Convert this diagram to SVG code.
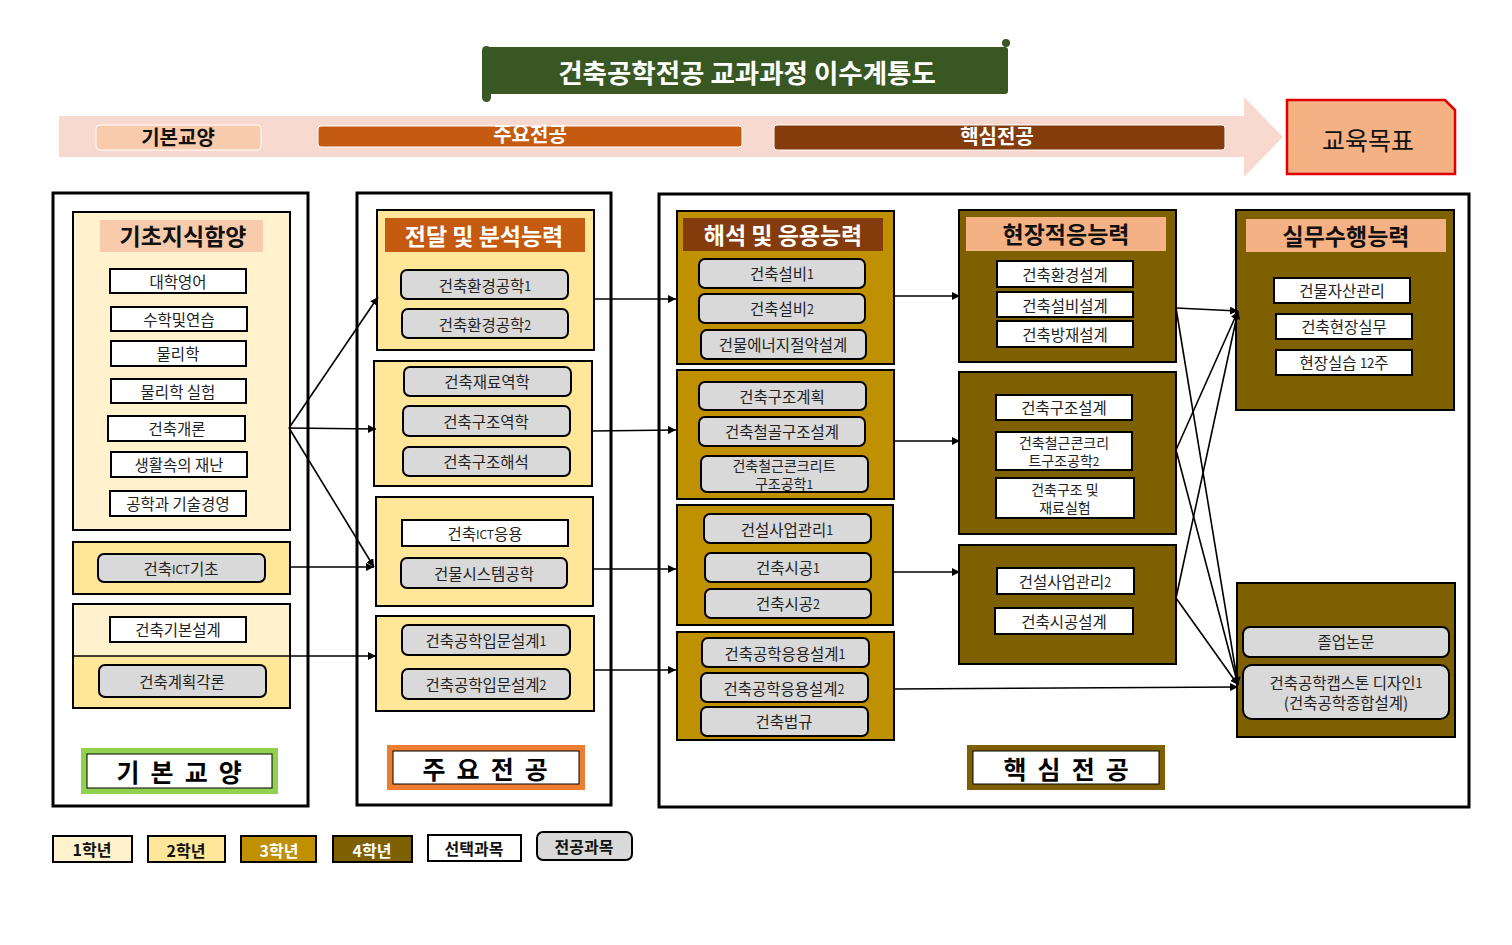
<svg xmlns="http://www.w3.org/2000/svg" width="1512" height="945" viewBox="0 0 1512 945">
<defs>
<style>
text{font-family:"Malgun Gothic","Noto Sans CJK KR",sans-serif;dominant-baseline:central;text-anchor:middle;}
.it{font-size:15.5px;fill:#222;}
.it2{font-size:14px;fill:#222;}
.hd{font-size:23px;font-weight:bold;}
.outer{fill:#fff;stroke:#000;stroke-width:3;}
.y1{fill:#fff2cc;stroke:#000;stroke-width:2;}
.y2{fill:#ffe699;stroke:#000;stroke-width:2;}
.y3{fill:#bf9000;stroke:#000;stroke-width:2;}
.y4{fill:#7f6000;stroke:#000;stroke-width:2;}
.sel{fill:#fff;stroke:#000;stroke-width:2;}
.maj{fill:#d9d9d9;stroke:#000;stroke-width:2;}
.lbl{font-size:25px;font-weight:bold;fill:#000;letter-spacing:2.7px;}
.lg{font-size:16px;font-weight:bold;}
.bd{font-size:20px;font-weight:bold;}
.con line{stroke:#000;stroke-width:1.6;fill:none;}
</style>
<marker id="ah" viewBox="0 0 10 10" refX="10" refY="5" markerWidth="8" markerHeight="8" markerUnits="userSpaceOnUse" orient="auto"><path d="M0,0 L10,5 L0,10 z" fill="#000"/></marker>
</defs>
<rect width="1512" height="945" fill="#fff"/>

<g id="title">
<rect x="486" y="47" width="522" height="47" rx="3" fill="#385723"/>
<rect x="482" y="46" width="9" height="56" rx="4.5" fill="#385723"/>
<circle cx="1006" cy="43" r="4" fill="#385723"/>
<text x="747" y="71" style="font-size:26.5px;font-weight:bold;fill:#fff;">건축공학전공 교과과정 이수계통도</text>
</g>

<g id="band">
<path d="M59,116 L1244,116 L1244,97 L1283,137 L1244,177 L1244,157 L59,157 Z" fill="#f8d9cf"/>
<rect x="96" y="125" width="165" height="25" rx="4" fill="#f8cbad" stroke="#fff" stroke-width="1"/>
<text class="bd" x="178" y="136" fill="#111">기본교양</text>
<rect x="318" y="126" width="424" height="21" rx="3" fill="#c55a11" stroke="#fff" stroke-width="1"/>
<text class="bd" x="530" y="133" fill="#fff">주요전공</text>
<rect x="774" y="125" width="451" height="25" rx="3" fill="#843c0c" stroke="#fff" stroke-width="1"/>
<text class="bd" x="997" y="135" fill="#fff">핵심전공</text>
</g>

<g id="goal">
<path d="M1287,100 L1445,100 L1455,110 L1455,174 L1287,174 Z" fill="#f4b183" stroke="#e00000" stroke-width="2.5"/>
<text x="1368" y="139" style="font-size:25px;fill:#111;">교육목표</text>
</g>

<g id="col1">
<rect class="outer" x="53" y="193" width="255" height="613"/>
<g id="basic-knowledge">
<rect class="y1" x="73" y="212" width="217" height="318"/>
<rect x="100" y="220" width="163" height="32" fill="#f8cbad"/>
<text class="hd" x="183" y="235" fill="#111">기초지식함양</text>
<rect class="sel" x="110" y="269" width="136" height="24"/><text class="it" x="178" y="281">대학영어</text>
<rect class="sel" x="111" y="307" width="136" height="24"/><text class="it" x="179" y="319">수학및연습</text>
<rect class="sel" x="111" y="341" width="135" height="25"/><text class="it" x="178" y="353">물리학</text>
<rect class="sel" x="111" y="379" width="135" height="24"/><text class="it" x="178" y="391">물리학 실험</text>
<rect class="sel" x="108" y="416" width="137" height="25"/><text class="it" x="177" y="428">건축개론</text>
<rect class="sel" x="111" y="452" width="136" height="25"/><text class="it" x="179" y="464">생활속의 재난</text>
<rect class="sel" x="110" y="491" width="136" height="25"/><text class="it" x="178" y="503">공학과 기술경영</text>
</g>
<g id="ict-basic">
<rect class="y2" x="73" y="542" width="217" height="52"/>
<rect class="maj" x="98" y="554" width="167" height="28" rx="6"/>
<text class="it" x="181" y="568">건축<tspan style="font-size:12px">ICT</tspan>기초</text>
</g>
<g id="design-basic">
<rect x="73" y="604" width="217" height="52" fill="#fff2cc"/>
<rect x="73" y="656" width="217" height="52" fill="#ffe699"/>
<rect x="73" y="604" width="217" height="104" fill="none" stroke="#000" stroke-width="2"/>
<line x1="73" y1="656" x2="290" y2="656" stroke="#000" stroke-width="1.5"/>
<rect class="sel" x="110" y="617" width="136" height="25"/><text class="it" x="178" y="629">건축기본설계</text>
<rect class="maj" x="99" y="665" width="167" height="32" rx="6"/><text class="it" x="182" y="681">건축계획각론</text>
</g>
<g id="label-basic">
<rect x="81" y="748" width="197" height="46" fill="#92d050"/>
<rect x="87" y="754" width="185" height="34" fill="#fff" stroke="#000" stroke-width="1"/>
<text class="lbl" x="180.5" y="771">기 본 교 양</text>
</g>
</g>

<g id="col2">
<rect class="outer" x="357" y="193" width="254" height="612"/>
<g id="analysis">
<rect class="y2" x="377" y="210" width="217" height="140"/>
<rect x="385" y="218" width="200" height="34" fill="#c55a11"/>
<text class="hd" x="484" y="235" fill="#fff">전달 및 분석능력</text>
<rect class="maj" x="401" y="270" width="167" height="29" rx="6"/><text class="it" x="485" y="285">건축환경공학<tspan style="font-size:12.5px">1</tspan></text>
<rect class="maj" x="402" y="309" width="166" height="29" rx="6"/><text class="it" x="485" y="324">건축환경공학<tspan style="font-size:12.5px">2</tspan></text>
</g>
<g id="structure-basic">
<rect class="y2" x="374" y="361" width="218" height="125"/>
<rect class="maj" x="404" y="367" width="167" height="29" rx="6"/><text class="it" x="487" y="381">건축재료역학</text>
<rect class="maj" x="403" y="406" width="167" height="30" rx="6"/><text class="it" x="486" y="421">건축구조역학</text>
<rect class="maj" x="403" y="447" width="167" height="29" rx="6"/><text class="it" x="486" y="461">건축구조해석</text>
</g>
<g id="ict-app">
<rect class="y2" x="376" y="497" width="217" height="109"/>
<rect class="sel" x="402" y="520" width="166" height="26"/><text class="it" x="485" y="533">건축<tspan style="font-size:12px">ICT</tspan>응용</text>
<rect class="maj" x="401" y="558" width="166" height="30" rx="6"/><text class="it" x="484" y="573">건물시스템공학</text>
</g>
<g id="intro-design">
<rect class="y2" x="376" y="616" width="218" height="95"/>
<rect class="maj" x="402" y="625" width="168" height="30" rx="6"/><text class="it" x="486" y="640">건축공학입문설계<tspan style="font-size:12.5px">1</tspan></text>
<rect class="maj" x="402" y="669" width="168" height="30" rx="6"/><text class="it" x="486" y="684">건축공학입문설계<tspan style="font-size:12.5px">2</tspan></text>
</g>
<g id="label-major">
<rect x="387" y="745" width="198" height="45" fill="#ed7d31"/>
<rect x="393" y="751" width="186" height="33" fill="#fff" stroke="#000" stroke-width="1"/>
<text class="lbl" x="486.5" y="768">주 요 전 공</text>
</g>
</g>

<g id="col3">
<rect class="outer" x="659" y="194" width="810" height="613"/>
<g id="application">
<rect class="y3" x="677" y="211" width="217" height="153"/>
<rect x="683" y="218" width="200" height="33" fill="#843c0c"/>
<text class="hd" x="783" y="234" fill="#fff">해석 및 응용능력</text>
<rect class="maj" x="699" y="259" width="166" height="29" rx="6"/><text class="it" x="782" y="273">건축설비<tspan style="font-size:12.5px">1</tspan></text>
<rect class="maj" x="699" y="294" width="166" height="29" rx="6"/><text class="it" x="782" y="308">건축설비<tspan style="font-size:12.5px">2</tspan></text>
<rect class="maj" x="701" y="330" width="165" height="29" rx="6"/><text class="it" x="783" y="344">건물에너지절약설계</text>
</g>
<g id="structure-design">
<rect class="y3" x="677" y="370" width="217" height="129"/>
<rect class="maj" x="699" y="382" width="167" height="28" rx="6"/><text class="it" x="782" y="396">건축구조계획</text>
<rect class="maj" x="699" y="417" width="166" height="29" rx="6"/><text class="it" x="782" y="431">건축철골구조설계</text>
<rect class="maj" x="701" y="456" width="167" height="36" rx="6"/><text class="it2" x="784" y="465">건축철근콘크리트</text><text class="it2" x="784" y="483">구조공학<tspan style="font-size:12px">1</tspan></text>
</g>
<g id="construction">
<rect class="y3" x="677" y="505" width="216" height="120"/>
<rect class="maj" x="704" y="514" width="167" height="29" rx="6"/><text class="it" x="787" y="529">건설사업관리<tspan style="font-size:12.5px">1</tspan></text>
<rect class="maj" x="705" y="553" width="166" height="29" rx="6"/><text class="it" x="788" y="567">건축시공<tspan style="font-size:12.5px">1</tspan></text>
<rect class="maj" x="705" y="589" width="166" height="29" rx="6"/><text class="it" x="788" y="603">건축시공<tspan style="font-size:12.5px">2</tspan></text>
</g>
<g id="applied-design">
<rect class="y3" x="677" y="632" width="217" height="108"/>
<rect class="maj" x="702" y="638" width="167" height="29" rx="6"/><text class="it" x="785" y="653">건축공학응용설계<tspan style="font-size:12.5px">1</tspan></text>
<rect class="maj" x="701" y="673" width="167" height="29" rx="6"/><text class="it" x="784" y="688">건축공학응용설계<tspan style="font-size:12.5px">2</tspan></text>
<rect class="maj" x="701" y="707" width="167" height="29" rx="6"/><text class="it" x="784" y="721">건축법규</text>
</g>
</g>

<g id="col4">
<g id="field">
<rect class="y4" x="959" y="210" width="217" height="152"/>
<rect x="966" y="217" width="200" height="34" fill="#f4b183"/>
<text class="hd" x="1066" y="233" fill="#111">현장적응능력</text>
<rect class="sel" x="997" y="261" width="136" height="26"/><text class="it" x="1065" y="274">건축환경설계</text>
<rect class="sel" x="997" y="292" width="136" height="25"/><text class="it" x="1065" y="305">건축설비설계</text>
<rect class="sel" x="997" y="321" width="136" height="26"/><text class="it" x="1065" y="334">건축방재설계</text>
</g>
<g id="field-structure">
<rect class="y4" x="959" y="372" width="217" height="162"/>
<rect class="sel" x="996" y="395" width="136" height="25"/><text class="it" x="1064" y="407">건축구조설계</text>
<rect class="sel" x="996" y="432" width="136" height="38"/><text class="it2" x="1064" y="442">건축철근콘크리</text><text class="it2" x="1064" y="460">트구조공학<tspan style="font-size:12px">2</tspan></text>
<rect class="sel" x="996" y="478" width="138" height="40"/><text class="it2" x="1065" y="489">건축구조 및</text><text class="it2" x="1065" y="507">재료실험</text>
</g>
<g id="field-construction">
<rect class="y4" x="959" y="545" width="217" height="119"/>
<rect class="sel" x="997" y="568" width="137" height="26"/><text class="it" x="1065" y="581">건설사업관리<tspan style="font-size:12.5px">2</tspan></text>
<rect class="sel" x="995" y="608" width="138" height="26"/><text class="it" x="1064" y="621">건축시공설계</text>
</g>
<g id="label-core">
<rect x="967" y="745" width="198" height="45" fill="#7f6000"/>
<rect x="973" y="751" width="186" height="33" fill="#fff" stroke="#000" stroke-width="1"/>
<text class="lbl" x="1067.5" y="768">핵 심 전 공</text>
</g>
</g>

<g id="col5">
<g id="practice">
<rect class="y4" x="1236" y="210" width="218" height="200"/>
<rect x="1246" y="219" width="200" height="33" fill="#f4b183"/>
<text class="hd" x="1346" y="235" fill="#111">실무수행능력</text>
<rect class="sel" x="1274" y="278" width="136" height="25"/><text class="it" x="1342" y="290">건물자산관리</text>
<rect class="sel" x="1276" y="314" width="136" height="25"/><text class="it" x="1344" y="326">건축현장실무</text>
<rect class="sel" x="1276" y="350" width="136" height="25"/><text class="it" x="1344" y="362">현장실습 <tspan style="font-size:13px">12</tspan>주</text>
</g>
<g id="capstone">
<rect class="y4" x="1237" y="583" width="218" height="154"/>
<rect class="maj" x="1243" y="627" width="206" height="30" rx="7"/><text class="it" x="1346" y="641">졸업논문</text>
<rect class="maj" x="1243" y="665" width="206" height="54" rx="9"/><text class="it" x="1346" y="682">건축공학캡스톤 디자인<tspan style="font-size:12.5px">1</tspan></text><text class="it" x="1346" y="702">(건축공학종합설계)</text>
</g>
</g>

<g id="connectors" class="con">
<line x1="289" y1="428" x2="378" y2="297" marker-end="url(#ah)"/>
<line x1="289" y1="428" x2="376" y2="429" marker-end="url(#ah)"/>
<line x1="289" y1="428" x2="374" y2="567" marker-end="url(#ah)"/>
<line x1="290" y1="567" x2="374" y2="567" marker-end="url(#ah)"/>
<line x1="290" y1="656" x2="376" y2="656" marker-end="url(#ah)"/>
<line x1="594" y1="299" x2="676" y2="299" marker-end="url(#ah)"/>
<line x1="592" y1="431" x2="676" y2="430" marker-end="url(#ah)"/>
<line x1="593" y1="569" x2="676" y2="569" marker-end="url(#ah)"/>
<line x1="594" y1="670" x2="676" y2="670" marker-end="url(#ah)"/>
<line x1="894" y1="296" x2="960" y2="296" marker-end="url(#ah)"/>
<line x1="894" y1="441" x2="960" y2="441" marker-end="url(#ah)"/>
<line x1="893" y1="572" x2="960" y2="572" marker-end="url(#ah)"/>
<line x1="894" y1="689" x2="1238" y2="687" marker-end="url(#ah)"/>
<line x1="1176" y1="308" x2="1238" y2="311" marker-end="url(#ah)"/>
<line x1="1176" y1="308" x2="1238" y2="685" marker-end="url(#ah)"/>
<line x1="1176" y1="450" x2="1238" y2="311" marker-end="url(#ah)"/>
<line x1="1176" y1="450" x2="1238" y2="685" marker-end="url(#ah)"/>
<line x1="1176" y1="598" x2="1238" y2="311" marker-end="url(#ah)"/>
<line x1="1176" y1="598" x2="1238" y2="685" marker-end="url(#ah)"/>
</g>

<g id="legend">
<rect class="y1" x="53" y="836" width="79" height="26"/><text class="lg" x="92" y="849" fill="#111">1학년</text>
<rect class="y2" x="148" y="836" width="77" height="26"/><text class="lg" x="186" y="850" fill="#111">2학년</text>
<rect class="y3" x="241" y="836" width="75" height="26"/><text class="lg" x="279" y="850" fill="#fff">3학년</text>
<rect class="y4" x="333" y="836" width="79" height="26"/><text class="lg" x="372" y="850" fill="#fff">4학년</text>
<rect class="sel" x="428" y="835" width="93" height="26"/><text class="lg" x="474" y="848" fill="#111">선택과목</text>
<rect class="maj" x="537" y="832" width="95" height="28" rx="6"/><text class="lg" x="584" y="846" fill="#111">전공과목</text>
</g>
</svg>
